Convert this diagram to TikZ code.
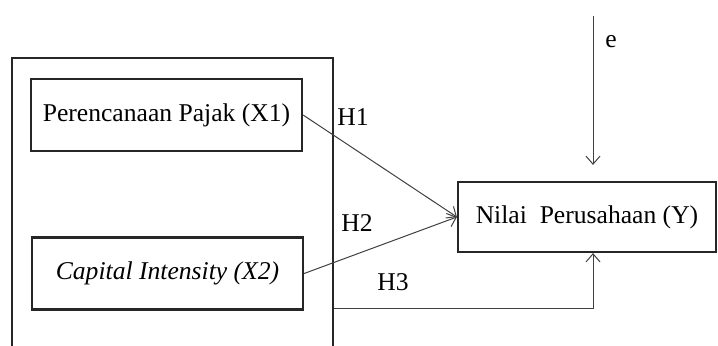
\documentclass[tikz,border=0pt]{standalone}
\usepackage{fontspec}
\setmainfont{Liberation Serif}
\usetikzlibrary{positioning,arrows.meta}
\tikzstyle{framebox} = [rectangle, draw=black!85, line width=1.1pt, minimum width=160.5pt, minimum height=160pt]
\tikzstyle{varbox} = [rectangle, draw=black!85, line width=1.1pt, minimum width=135.5pt, minimum height=36pt, text centered]
\tikzstyle{arrow} = [draw, black!75, line width=0.5pt, -{Straight Barb[length=4pt, width=7pt]}]

\begin{document}
\begin{tikzpicture}[x=0.5pt, y=-0.5pt]
    \tikzstyle{every node}=[font=\fontsize{12.8}{15}\selectfont]
    \useasboundingbox (0,0) rectangle (718,345);
    \clip (0,0) rectangle (718,345);

    \node (frame) [framebox] at (172.5,218) {};
    \node (x1) [varbox] at (166.5,115) {Perencanaan Pajak (X1)};
    \node (x2) [varbox] at (167.5,273.5) {\textit{Capital Intensity (X2)}};
    \node (y) [varbox, minimum width=129pt, minimum height=35pt] at (587,217) {Nilai~ Perusahaan (Y)};

    \coordinate (etop) at (593,16);
    \coordinate (h3) at (frame.east |- 0,308);

    \draw [arrow] (x1.east) -- (y.west);
    \draw [arrow] (x2.east) -- (y.west);
    \draw [arrow] (h3) -| ([xshift=3pt]y.south);
    \draw [arrow, shorten >=8pt] (etop) -- (etop |- y.north);

    \node (lh1) at (353,117) {H1};
    \node (lh2) at (357,223) {H2};
    \node (lh3) at (393,282) {H3};
    \node (le) at (611,42) {e};

\end{tikzpicture}
\end{document}
